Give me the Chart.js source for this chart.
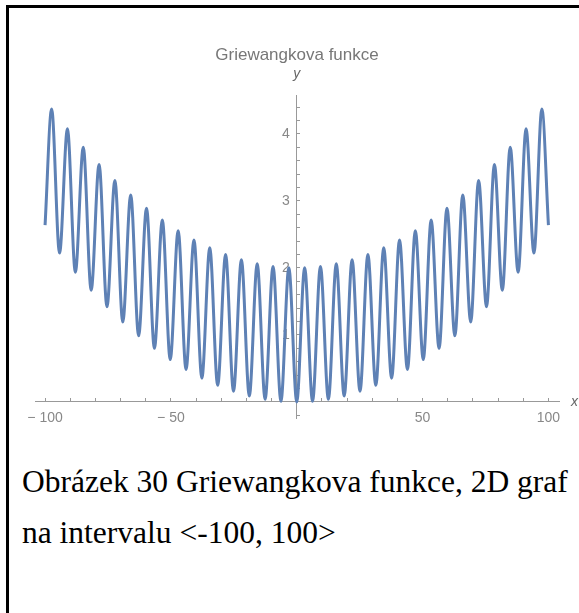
<!DOCTYPE html>
<html>
<head>
<meta charset="utf-8">
<script src="https://cdn.jsdelivr.net/npm/chart.js@4.4.1/dist/chart.umd.min.js"></script>
<style>
  html, body { margin: 0; padding: 0; background: #fff; overflow: hidden; width: 579px; height: 613px; }
  #frame { position: absolute; left: 6px; top: 5px; width: 700px; height: 800px; border-left: 3px solid #000; border-top: 3px solid #000; }
  #wrap { position: absolute; left: 0; top: 0; width: 579px; height: 440px; }
  .cap { position: absolute; left: 22px; font-family: "Liberation Serif", "Times New Roman", serif; font-size: 31.5px; line-height: 31.5px; color: #000; white-space: nowrap; }
</style>
</head>
<body>
<div id="frame"></div>
<div id="wrap"><canvas id="c" width="579" height="440"></canvas></div>
<div class="cap" style="top:466px">Obrázek 30 Griewangkova funkce, 2D graf</div>
<div class="cap" style="top:517px">na intervalu &lt;-100, 100&gt;</div>
<script>
// Extrema of the plotted curve (x, y)
const curveX = [
  -100, -97.39, -94.25, -91.11, -87.96, -84.82, -81.68, -78.54, -75.40, -72.26,
  -69.12, -65.97, -62.83, -59.69, -56.55, -53.41, -50.27, -47.12, -43.98, -40.84,
  -37.70, -34.56, -31.42, -28.27, -25.13, -21.99, -18.85, -15.71, -12.57, -9.42,
  -6.28, -3.14, 0,
  3.14, 6.28, 9.42, 12.57, 15.71, 18.85, 21.99, 25.13, 28.27, 31.42,
  34.56, 37.70, 40.84, 43.98, 47.12, 50.27, 53.41, 56.55, 59.69, 62.83,
  65.97, 69.12, 72.26, 75.40, 78.54, 81.68, 84.82, 87.96, 91.11, 94.25,
  97.39, 100
];
const curveY = [
  2.638, 4.371, 2.221, 4.075, 1.935, 3.799, 1.668, 3.542, 1.421, 3.305,
  1.194, 3.088, 0.987, 2.891, 0.800, 2.713, 0.632, 2.555, 0.484, 2.417,
  0.355, 2.299, 0.247, 2.200, 0.158, 2.121, 0.089, 2.062, 0.039, 2.022,
  0.010, 2.002, 0,
  2.002, 0.010, 2.022, 0.039, 2.062, 0.089, 2.121, 0.158, 2.200, 0.247,
  2.299, 0.355, 2.417, 0.484, 2.555, 0.632, 2.713, 0.800, 2.891, 0.987,
  3.088, 1.194, 3.305, 1.421, 3.542, 1.668, 3.799, 1.935, 4.075, 2.221,
  4.371, 2.638
];
const xTickLabels = [-100, -50, 50, 100];
const yTickLabels = [1, 2, 3, 4];
const chartTitle = 'Griewangkova funkce';
const xAxisName = 'x';
const yAxisName = 'y';

const points = curveX.map((x, i) => ({ x: x, y: curveY[i] }));

const axisNames = {
  id: 'axisNames',
  afterDraw(chart) {
    const ctx = chart.ctx;
    const xs = chart.scales.x, ys = chart.scales.y;
    ctx.save();
    ctx.fillStyle = '#666';
    ctx.font = 'italic 14px "Liberation Sans", Arial, sans-serif';
    ctx.textAlign = 'center';
    ctx.textBaseline = 'middle';
    ctx.fillText(yAxisName, xs.getPixelForValue(0), ys.top - 21);
    ctx.textAlign = 'left';
    ctx.fillText(xAxisName, xs.right + 12, ys.getPixelForValue(0));
    ctx.restore();
  }
};

new Chart(document.getElementById('c'), {
  type: 'line',
  data: {
    datasets: [{
      data: points,
      borderColor: '#5e81b5',
      borderWidth: 3,
      pointRadius: 0,
      fill: false,
      cubicInterpolationMode: 'monotone'
    }]
  },
  options: {
    responsive: false,
    animation: false,
    devicePixelRatio: 1,
    layout: { padding: { left: 35, right: 20, top: 0, bottom: 22 } },
    plugins: {
      legend: { display: false },
      tooltip: { enabled: false },
      title: {
        display: true,
        text: chartTitle,
        color: '#777',
        font: { family: '"Liberation Sans", Arial, sans-serif', size: 17, weight: 'normal', lineHeight: 1.2 },
        padding: { top: 45, bottom: 29.6 }
      }
    },
    scales: {
      x: {
        type: 'linear',
        min: -104,
        max: 104.2,
        position: { y: 0 },
        afterFit(s) { s.height = 0; },
        border: { color: '#999', width: 1 },
        grid: { drawOnChartArea: false, drawTicks: true, tickLength: -4, color: '#999' },
        ticks: {
          stepSize: 10,
          includeBounds: false,
          autoSkip: false,
          maxRotation: 0,
          color: '#888',
          padding: 12,
          font: { family: '"Liberation Sans", Arial, sans-serif', size: 14 },
          callback(v) {
            const r = Math.round(v);
            return (Math.abs(v - r) < 1e-6 && xTickLabels.includes(r)) ? (r < 0 ? '\u2212 ' + (-r) : String(r)) : '';
          }
        }
      },
      y: {
        type: 'linear',
        min: -0.24,
        max: 4.58,
        position: { x: 0 },
        afterFit(s) { s.width = 0; },
        border: { color: '#999', width: 1 },
        grid: { drawOnChartArea: false, drawTicks: true, tickLength: -4, color: '#999' },
        ticks: {
          stepSize: 0.2,
          includeBounds: false,
          autoSkip: false,
          color: '#888',
          padding: 0,
          font: { family: '"Liberation Sans", Arial, sans-serif', size: 14 },
          callback(v) {
            const r = Math.round(v);
            return (Math.abs(v - r) < 1e-6 && yTickLabels.includes(r)) ? String(r) + '\u2002' : '';
          }
        }
      }
    }
  },
  plugins: [axisNames]
});
</script>
</body>
</html>
